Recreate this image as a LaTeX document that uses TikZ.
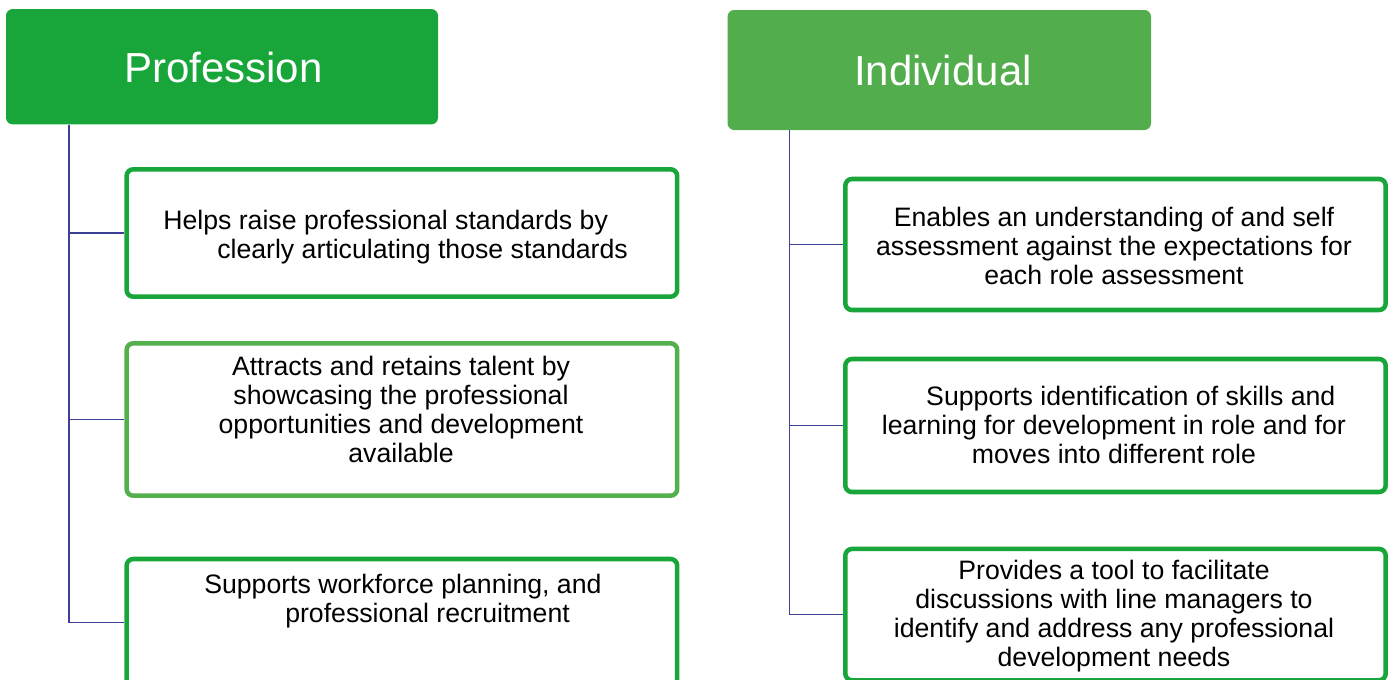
\documentclass[tikz,border=0pt]{standalone}
\usepackage{fontspec}
\setmainfont{Liberation Sans}
\definecolor{hdrA}{HTML}{18A63A}
\definecolor{hdrB}{HTML}{52AE4C}
\definecolor{frameA}{HTML}{18A63A}
\definecolor{frameB}{HTML}{54B04C}
\definecolor{linkline}{HTML}{3C3F96}
\tikzset{
  header/.style={rectangle, rounded corners=5pt, inner sep=0pt, text=white,
    font=\fontsize{31.5}{36}\selectfont},
  itembox/.style={rectangle, draw=frameA, line width=3.4pt, rounded corners=5pt,
    fill=white, inner sep=0pt},
  itemtext/.style={inner sep=0pt, font=\fontsize{20}{21.75}\selectfont},
  link/.style={draw=linkline, line width=1pt}
}
\begin{document}
\begin{tikzpicture}[x=0.75pt,y=-0.75pt]
\useasboundingbox (0,0) rectangle (1391,679);
\clip (0,0) rectangle (1391,679);

% column headers
\node[header, fill=hdrA, minimum width=324pt, minimum height=86.5pt] (prof) at (222,66.7) {};
\node[header, fill=hdrB, minimum width=317.6pt, minimum height=90pt] (indiv) at (939.25,70) {};
\node[header, anchor=base] (proftitle) at (223.5,82.3) {Profession};
\node[header, anchor=base] (indivtitle) at (943,85) {Individual};

% profession items
\node[itembox, minimum width=412.95pt, minimum height=95.55pt] (pb1) at (401.9,233) {};
\node[itembox, draw=frameB, minimum width=412.95pt, minimum height=114.3pt] (pb2) at (401.9,419.5) {};
\node[itembox, minimum width=412.95pt, minimum height=95.4pt] (pb3) at (401.9,622.6) {};

% individual items
\node[itembox, minimum width=405.3pt, minimum height=98.25pt] (ib1) at (1115.5,244.5) {};
\node[itembox, minimum width=405.3pt, minimum height=99.75pt] (ib2) at (1115.5,425.5) {};
\node[itembox, minimum width=405.3pt, minimum height=98.5pt] (ib3) at (1115.5,614.6) {};

% connectors
\path (prof.south west) ++(63.3,0) coordinate (ptrunk);
\path (indiv.south west) ++(62,0) coordinate (itrunk);
\draw[link] (ptrunk) |- (pb1.west);
\draw[link] (ptrunk) |- (pb2.west);
\draw[link] (ptrunk) |- (pb3.west);
\draw[link] (itrunk) |- (ib1.west);
\draw[link] (itrunk) |- (ib2.west);
\draw[link] (itrunk) |- (ib3.west);

% item texts
\node[itemtext, align=left, anchor=north west] (pt1) at (163,209) {\strut Helps raise professional standards by\\
  \hspace*{40.5pt}clearly articulating those standards\strut};
\node[itemtext, align=center, anchor=north] (pt2) at (401,354.7) {\strut Attracts and retains talent by\\
  showcasing the professional\\ opportunities and development\\ available\strut};
\node[itemtext, align=left, anchor=north west] (pt3) at (204,573) {\strut Supports workforce planning, and\\
  \hspace*{60.75pt}professional recruitment\strut};

\node[itemtext, align=center, anchor=north] (it1) at (1114,206.4) {\strut Enables an understanding of and self\\
  assessment against the expectations for\\ each role assessment\strut};
\node[itemtext, align=left, anchor=north west] (it2) at (881.7,384.7) {\strut\hspace*{33.2pt}Supports identification of skills and\\
  learning for development in role and for\\ \hspace*{67.4pt}moves into different role\strut};
\node[itemtext, align=center, anchor=north] (it3) at (1114,559) {\strut Provides a tool to facilitate\\
  discussions with line managers to\\ identify and address any professional\\ development needs\strut};
\end{tikzpicture}
\end{document}
